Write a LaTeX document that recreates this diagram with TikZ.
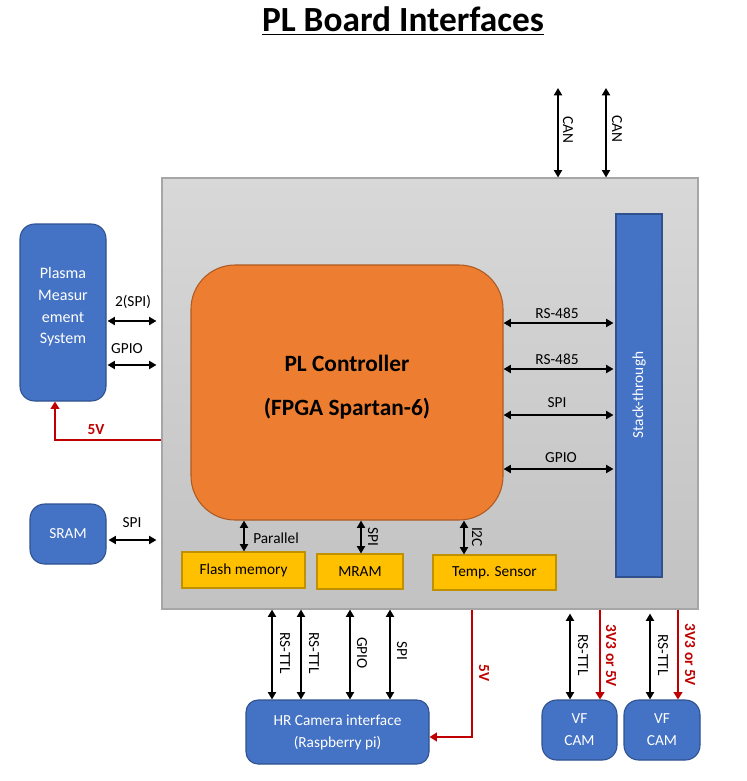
\documentclass[tikz,border=0pt]{standalone}
\usepackage{fontspec}
\setmainfont{Carlito}
\usetikzlibrary{arrows.meta,calc}
\definecolor{bluebox}{HTML}{4472C4}
\definecolor{blueedge}{HTML}{2F528F}
\definecolor{orangebox}{HTML}{ED7D31}
\definecolor{orangeedge}{HTML}{AE5A21}
\definecolor{yellowbox}{HTML}{FFC000}
\definecolor{yellowedge}{HTML}{BF9000}
\definecolor{redline}{HTML}{C00000}
\definecolor{boardtop}{HTML}{D8D8D8}
\definecolor{boardbot}{HTML}{C2C2C2}
\definecolor{boardedge}{HTML}{A6A6A6}
\tikzset{
  bluenode/.style={draw=blueedge, fill=bluebox, line width=0.8pt, rounded corners=11pt, text=white, align=center, inner sep=0pt, font=\fontsize{11.5}{16.5}\selectfont},
  yellownode/.style={draw=yellowedge, fill=yellowbox, line width=0.8pt, inner sep=0pt, font=\fontsize{11.5}{14}\selectfont},
  bi/.style={{Triangle[length=5.5pt,width=6pt]}-{Triangle[length=5.5pt,width=6pt]}, line width=1.5pt, black},
  pwr/.style={-{Triangle[length=5.5pt,width=6.5pt]}, line width=1.8pt, redline},
  lbl/.style={font=\fontsize{11.5}{14}\selectfont, inner sep=0pt},
  rlbl/.style={font=\fontsize{11.5}{14}\selectfont, inner sep=0pt, rotate=-90},
  redlbl/.style={font=\fontsize{11.5}{14}\selectfont\bfseries, text=redline, inner sep=0pt},
}
\begin{document}
\begin{tikzpicture}[x=0.75pt,y=-0.75pt]
\useasboundingbox (0,0) rectangle (746,781);
% title
\node[font=\fontsize{26.5}{30}\selectfont\bfseries] (title) at (403,21) {\underline{PL Board Interfaces}};
% board
\node[draw=boardedge, line width=0.8pt, top color=boardtop, bottom color=boardbot, minimum width=402pt, minimum height=323.25pt, inner sep=0pt] (board) at (430,393.5) {};
% PL controller
\node[draw=orangeedge, fill=orangebox, line width=0.8pt, rounded corners=33pt, minimum width=234pt, minimum height=191.25pt, inner sep=0pt] (pl) at (347,392.5) {};
\node[align=center, font=\fontsize{17.5}{33}\selectfont\bfseries, inner sep=0pt] (pltxt) at (347,387) {PL Controller\\(FPGA Spartan-6)};
% stack-through
\node[draw=blueedge, fill=bluebox, line width=0.8pt, minimum width=34.5pt, minimum height=272.25pt, inner sep=0pt] (stack) at (639,395.5) {};
\node[rotate=90, text=white, font=\fontsize{11.5}{14}\selectfont, inner sep=0pt] (stacktxt) at (639,395) {Stack-through};
% left boxes
\node[bluenode, minimum width=64.5pt, minimum height=132.75pt] (plasma) at (63,312.5) {};
\node[text=white, align=center, inner sep=0pt, font=\fontsize{12}{16.3}\selectfont] (plasmatxt) at (63,307) {Plasma\\Measur\\ement\\System};
\node[bluenode, minimum width=57pt, minimum height=45pt] (sram) at (68,534) {SRAM};
% yellow boxes
\node[yellownode, minimum width=92.25pt, minimum height=27pt] (flash) at (243.5,570) {Flash memory};
\node[yellownode, minimum width=64.5pt, minimum height=26.25pt] (mram) at (360,571.5) {MRAM};
\node[yellownode, minimum width=92.25pt, minimum height=26.25pt] (temp) at (494.5,572.5) {Temp. Sensor};
% bottom boxes
\node[bluenode, rounded corners=9pt, minimum width=137.25pt, minimum height=48pt] (hr) at (337.5,732) {HR Camera interface\\(Raspberry pi)};
\node[bluenode, minimum width=56.25pt, minimum height=45pt] (vf1) at (579.5,730) {VF\\CAM};
\node[bluenode, minimum width=57pt, minimum height=45pt] (vf2) at (662,730) {VF\\CAM};

% left arrows
\draw[bi, shorten <=0.75pt, shorten >=3.75pt] (plasma.east |- 0,321) -- (board.west |- 0,321);
\node[lbl] (l2spi) at (133,302) {2(SPI)};
\draw[bi, shorten <=0.75pt, shorten >=3.75pt] (plasma.east |- 0,365) -- (board.west |- 0,365);
\node[lbl] (lgpio) at (127,349) {GPIO};
\draw[bi, shorten <=1.5pt, shorten >=3.75pt] (sram.east |- 0,540) -- (board.west |- 0,540);
\node[lbl] (lsram) at (132,523) {SPI};
% 5V to plasma
\draw[pwr] (board.west |- 0,440) -| (plasma.south -| 55,0);
\node[redlbl] (l5v) at (96,430) {5V};

% right arrows to stack
\draw[bi, shorten >=1.5pt] (pl.east |- 0,323) -- (stack.west |- 0,323);
\node[lbl] (lrs1) at (557,313) {RS-485};
\draw[bi, shorten >=1.5pt] (pl.east |- 0,369) -- (stack.west |- 0,369);
\node[lbl] (lrs2) at (557,359) {RS-485};
\draw[bi, shorten >=1.5pt] (pl.east |- 0,415) -- (stack.west |- 0,415);
\node[lbl] (lspi) at (557,403) {SPI};
\draw[bi, shorten >=1.5pt] (pl.east |- 0,469) -- (stack.west |- 0,469);
\node[lbl] (lgpio2) at (561,458) {GPIO};

% CAN arrows
\coordinate (can1) at (558,88);
\coordinate (can2) at (606,88);
\draw[bi] (can1) -- (board.north -| can1);
\draw[bi] (can2) -- (board.north -| can2);
\node[rlbl] (lcan1) at (568,130) {CAN};
\node[rlbl] (lcan2) at (617,129) {CAN};

% PL to yellow boxes
\draw[bi] (pl.south -| 244,0) -- (flash.north -| 244,0);
\node[lbl, anchor=west] (lpar) at (253,538) {Parallel};
\draw[bi] (pl.south -| 361,0) -- (mram.north -| 361,0);
\node[rlbl] (lspim) at (373,537) {SPI};
\draw[bi] (pl.south -| 464,0) -- (temp.north -| 464,0);
\node[rlbl] (li2c) at (477,537) {I2C};

% bottom arrows to HR
\draw[bi] (board.south -| 272,0) -- (hr.north -| 272,0);
\node[rlbl] (lrt1) at (285,653) {RS-TTL};
\draw[bi] (board.south -| 301,0) -- (hr.north -| 301,0);
\node[rlbl] (lrt2) at (314,653) {RS-TTL};
\draw[bi] (board.south -| 350,0) -- (hr.north -| 350,0);
\node[rlbl] (lg3) at (362,653) {GPIO};
\draw[bi] (board.south -| 390,0) -- (hr.north -| 390,0);
\node[rlbl] (ls3) at (402,651) {SPI};
% 5V to HR
\draw[pwr] (board.south -| 472,0) |- (hr.east |- 0,737);
\node[redlbl, rotate=-90] (l5v2) at (484,673) {5V};

% VF cams
\draw[bi, shorten <=3pt] (board.south -| 570,0) -- (vf1.north -| 570,0);
\node[rlbl] (lrt4) at (583,655) {RS-TTL};
\draw[pwr] (board.south -| 600,0) -- (vf1.north -| 600,0);
\node[redlbl, rotate=-90] (lv1) at (611,656) {3V3 or 5V};
\draw[bi, shorten <=3pt] (board.south -| 650,0) -- (vf2.north -| 650,0);
\node[rlbl] (lrt5) at (663,655) {RS-TTL};
\draw[pwr] (board.south -| 678,0) -- (vf2.north -| 678,0);
\node[redlbl, rotate=-90] (lv2) at (690,655) {3V3 or 5V};
\end{tikzpicture}
\end{document}
